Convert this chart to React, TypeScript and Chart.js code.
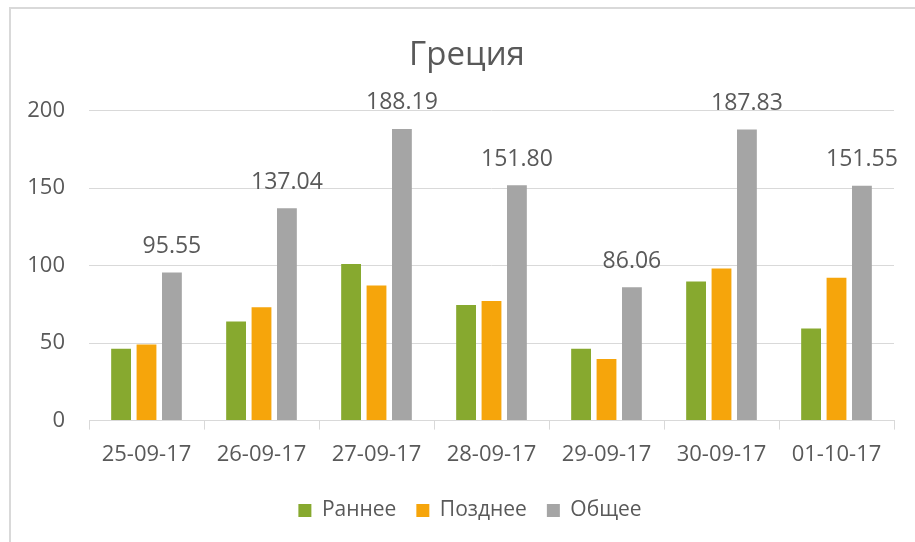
import React, { useEffect, useRef } from "react";
import { Chart, registerables } from "chart.js";

Chart.register(...registerables);

const categories = ["25-09-17", "26-09-17", "27-09-17", "28-09-17", "29-09-17", "30-09-17", "01-10-17"];
const early = [46.4, 63.9, 101.0, 74.6, 46.36, 89.7, 59.4];
const late = [49.15, 73.14, 87.19, 77.2, 39.7, 98.13, 92.15];
const total = [95.55, 137.04, 188.19, 151.8, 86.06, 187.83, 151.55];
const yTicks = [0, 50, 100, 150, 200];

const FONT = "'Open Sans', 'Noto Sans', sans-serif";
const TEXT = "#595959";

const totalLabels = {
  id: "totalLabels",
  afterDatasetsDraw(chart: any) {
    const ctx = chart.ctx;
    const meta = chart.getDatasetMeta(2);
    ctx.save();
    ctx.font = `23px ${FONT}`;
    ctx.fillStyle = TEXT;
    ctx.textAlign = "center";
    ctx.textBaseline = "middle";
    meta.data.forEach((bar: any, i: number) => {
      ctx.fillText(total[i].toFixed(2), bar.x, bar.y - 26);
    });
    ctx.restore();
  },
};

const shiftBlocks = {
  id: "shiftBlocks",
  afterLayout(chart: any) {
    const t = chart.titleBlock;
    if (t) {
      t.left += 20;
      t.right += 20;
    }
    const l = chart.legend;
    if (l) {
      l.left += 23;
      l.right += 23;
    }
  },
};

export default function App() {
  const ref = useRef<HTMLCanvasElement>(null);
  useEffect(() => {
    document.body.style.margin = "0";
    const chart = new Chart(ref.current!, {
      type: "bar",
      data: {
        labels: categories,
        datasets: [
          { label: "Раннее", data: early, backgroundColor: "#87a92f" },
          { label: "Позднее", data: late, backgroundColor: "#f6a50b" },
          { label: "Общее", data: total, backgroundColor: "#a5a5a5" },
        ],
      },
      options: {
        animation: false,
        responsive: false,
        devicePixelRatio: 1,
        datasets: { bar: { categoryPercentage: 0.663, barPercentage: 0.78 } },
        layout: { padding: { left: 0, right: 21, top: 0, bottom: 11 } },
        plugins: {
          title: {
            display: true,
            text: "Греция",
            color: TEXT,
            font: { family: FONT, size: 33, weight: "normal", lineHeight: 1.2 },
            padding: { top: 36, bottom: 35 },
          },
          legend: {
            position: "bottom",
            labels: {
              color: TEXT,
              font: { family: FONT, size: 21 },
              boxWidth: 13,
              boxHeight: 13,
              padding: 20,
            },
          },
          tooltip: { enabled: false },
        },
        scales: {
          x: {
            grid: { display: true, drawOnChartArea: false, drawTicks: true, tickLength: 9, color: "#d9d9d9" },
            border: { display: true, color: "#d9d9d9" },
            ticks: { color: TEXT, font: { family: FONT, size: 22 }, padding: 12 },
          },
          y: {
            min: 0,
            max: 200,
            afterBuildTicks: (scale: any) => {
              scale.ticks = yTicks.map((v) => ({ value: v }));
            },
            afterFit: (scale: any) => {
              scale.width = 89;
            },
            grid: { color: "#d9d9d9", drawTicks: false },
            border: { display: false },
            ticks: { color: TEXT, font: { family: FONT, size: 22 }, padding: 24 },
          },
        },
      },
      plugins: [totalLabels, shiftBlocks],
    });
    return () => chart.destroy();
  }, []);
  return (
    <div style={{ position: "fixed", left: 0, top: 0, width: 915, height: 542, background: "#fff" }}>
      <div
        style={{
          position: "absolute",
          left: 9,
          top: 7,
          right: 0,
          bottom: 0,
          borderTop: "2px solid #d9d9d9",
          borderLeft: "2px solid #d9d9d9",
        }}
      />
      <canvas ref={ref} width={915} height={542} style={{ position: "absolute", left: 0, top: 0 }} />
    </div>
  );
}
